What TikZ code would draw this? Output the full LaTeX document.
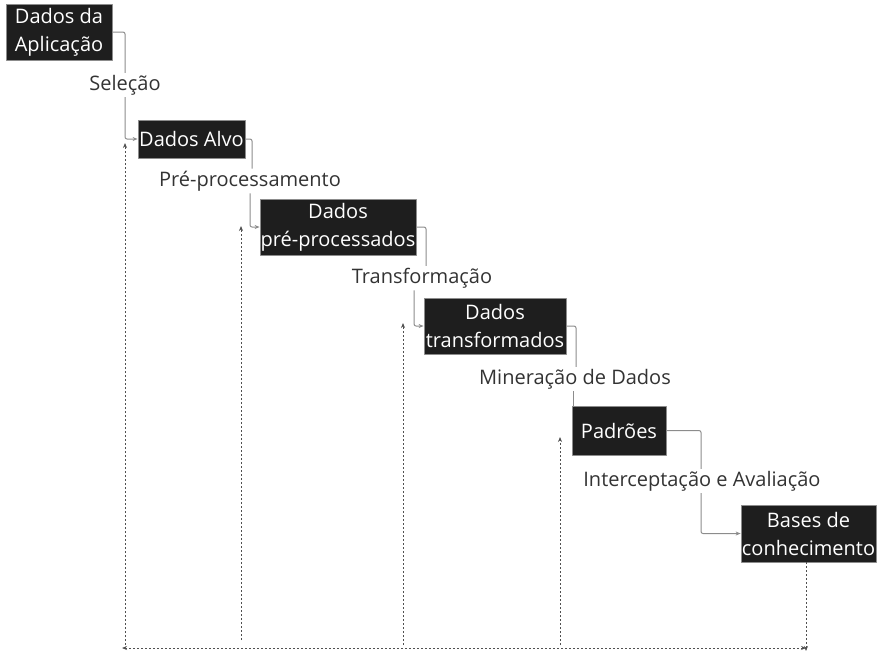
\documentclass[tikz,border=0pt]{standalone}
\usepackage{fontspec}
\setmainfont{Open Sans}
\usetikzlibrary{arrows.meta,positioning}
\definecolor{kddBox}{HTML}{1E1E1E}
\definecolor{kddEdge}{HTML}{8C8C8C}
\definecolor{kddInk}{HTML}{333333}
\definecolor{kddDash}{HTML}{505050}
\tikzset{
  kdd diagram/.style={font=\fontsize{20}{28}\selectfont, text=kddInk,
    line join=round},
  kdd box/.style={draw=kddEdge, fill=kddBox, text=white, line width=0.8pt,
    align=center, inner sep=0pt},
  kdd label/.style={fill=white, inner sep=2pt},
  kdd line/.style={draw=kddEdge, line width=1pt, rounded corners=2pt},
  kdd arrow/.style={kdd line, -{Stealth[length=5pt,width=4pt]}},
  kdd feedback/.style={-{Stealth[length=5pt,width=4pt]}, draw=kddDash,
    line width=0.8pt, dash pattern=on 2pt off 2pt}
}
\begin{document}
\begin{tikzpicture}[kdd diagram,x=1pt,y=-1pt]
\useasboundingbox (0,0) rectangle (883,659);
% stages
\node[kdd box, minimum width=106, minimum height=56] (app) at (59,32) {Dados da\\ Aplicação};
\node[kdd box, minimum width=107, minimum height=38] (alvo) at (191.5,139) {Dados Alvo};
\node[kdd box, minimum width=156, minimum height=56] (prep) at (338,227) {Dados\\pré-processados};
\node[kdd box, minimum width=142, minimum height=56] (transf) at (495,326) {Dados\\transformados};
\node[kdd box, minimum width=94, minimum height=49] (padr) at (619,430.5) {Padrões};
\node[kdd box, minimum width=135, minimum height=57] (bases) at (808.5,533.5) {Bases de\\conhecimento};
% steps
\node[kdd label] (sel) at (125,85) {Seleção};
\node[kdd label] (pre) at (250,181) {Pré-processamento};
\node[kdd label] (tra) at (422,278) {Transformação};
\node[kdd label] (min) at (575,379) {Mineração de Dados};
\node[kdd label] (ava) at (702,481) {Interceptação e Avaliação};
\draw[kdd line] (app.east) -| (sel.north);
\draw[kdd arrow] (sel.south) |- (alvo.west);
\draw[kdd line] (alvo.east) -| ([xshift=2]pre.north);
\draw[kdd arrow] (pre.south) |- (prep.west);
\draw[kdd line] (prep.east) -| ([xshift=4]tra.north);
\draw[kdd arrow] ([xshift=-8]tra.south) |- (transf.west);
\draw[kdd line] (transf.east) -| ([xshift=1]min.north);
\draw[kdd line] ([xshift=-2]min.south) -- ([xshift=-2]min.south |- padr.north);
\draw[kdd line] (padr.east) -| ([xshift=-1]ava.north);
\draw[kdd arrow] ([xshift=-1]ava.south) |- (bases.west);
% feedback
\coordinate (fbL) at (122,648);
\coordinate (fbR) at (806,648);
\draw[kdd feedback] (bases.south -| fbR) -- ([yshift=-3]fbR);
\draw[kdd feedback, {Stealth[length=5pt,width=4pt]}-{Stealth[length=5pt,width=4pt]}] (fbL) -- (fbR);
\foreach \x/\ytop/\ybot/\name in {125/143/645/fa,241/226/640/fb,403/323/645/fc,560/437/645/fd}{
  \coordinate (\name top) at (\x,\ytop);
  \coordinate (\name bot) at (\x,\ybot);
  \draw[kdd feedback] (\name bot) -- (\name top);
}
\end{tikzpicture}
\end{document}
